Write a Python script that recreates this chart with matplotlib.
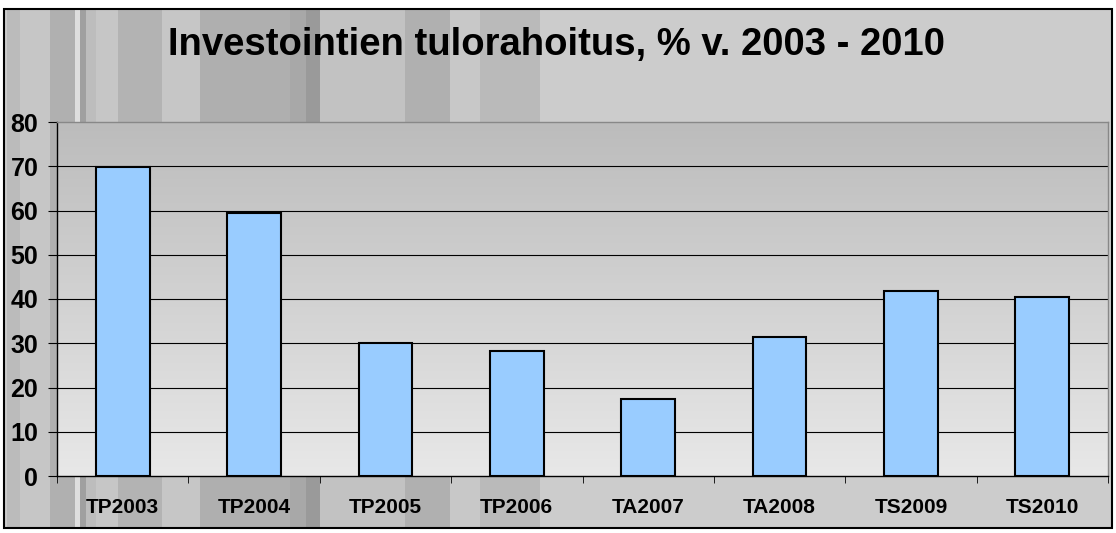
import matplotlib
matplotlib.use("Agg")
import matplotlib.pyplot as plt
import numpy as np
from matplotlib.patches import Rectangle
from matplotlib.colors import LinearSegmentedColormap

categories = ["TP2003", "TP2004", "TP2005", "TP2006", "TA2007", "TA2008", "TS2009", "TS2010"]
values = [69.8, 59.4, 30.1, 28.2, 17.4, 31.4, 41.8, 40.5]
title = "Investointien tulorahoitus, % v. 2003 - 2010"
yticks = [0, 10, 20, 30, 40, 50, 60, 70, 80]

W, H = 1116, 533
fig = plt.figure(figsize=(W / 100, H / 100), dpi=100)
fig.patch.set_facecolor("white")
plt.rcParams["font.family"] = ["Liberation Sans", "DejaVu Sans"]

# chart frame background
frame_l, frame_b, frame_r, frame_t = 4, 5, 1112, 524
fig.patches.append(Rectangle((frame_l / W, frame_b / H), (frame_r - frame_l) / W, (frame_t - frame_b) / H,
                             transform=fig.transFigure, facecolor="#cccccc", edgecolor="none", zorder=-3))
# decorative vertical stripes on the left part
stripes = [(7, 20, "#bbbbbb"), (20, 50, "#c6c6c6"), (50, 75, "#b0b0b0"), (75, 80, "#dedede"),
           (80, 86, "#a0a0a0"), (86, 96, "#bdbdbd"), (96, 118, "#c6c6c6"), (118, 162, "#b3b3b3"),
           (162, 200, "#c6c6c6"), (200, 290, "#afafaf"), (290, 306, "#a8a8a8"), (306, 320, "#9a9a9a"),
           (320, 405, "#c2c2c2"), (405, 450, "#b0b0b0"), (450, 480, "#c8c8c8"), (480, 540, "#bababa")]
for x0, x1, c in stripes:
    fig.patches.append(Rectangle((x0 / W, frame_b / H), (x1 - x0) / W, (frame_t - frame_b) / H,
                                 transform=fig.transFigure, facecolor=c, edgecolor="none", zorder=-2))
fig.patches.append(Rectangle((frame_l / W, frame_b / H), (frame_r - frame_l) / W, (frame_t - frame_b) / H,
                             transform=fig.transFigure, facecolor="none", edgecolor="black", linewidth=1.5, zorder=-1))

ax_l, ax_r, ax_t, ax_b = 57, 1108, 122, 476
ax = fig.add_axes([ax_l / W, 1 - ax_b / H, (ax_r - ax_l) / W, (ax_b - ax_t) / H])
ax.set_facecolor("none")

x = np.arange(len(categories))
ax.set_xlim(-0.5, len(categories) - 0.5)
ax.set_ylim(0, 80)

# gradient plot-area background
cmap = LinearSegmentedColormap.from_list("g", ["#e8e8e8", "#bcbcbc"])
grad = np.linspace(0, 1, 256).reshape(-1, 1)
ax.imshow(grad, cmap=cmap, aspect="auto", extent=(-0.5, len(categories) - 0.5, 0, 80),
          origin="lower", zorder=0)

ax.set_yticks(yticks)
for yv in yticks[1:-1]:
    ax.axhline(yv, color="black", linewidth=0.8, zorder=1)

ax.bar(x, values, width=0.41, color="#99ccff", edgecolor="black", linewidth=1.5, zorder=3)

ax.set_xticks(x)
ax.set_xticklabels(categories, fontsize=15, fontweight="bold")
ax.set_xticks(np.arange(len(categories) + 1) - 0.5, minor=True)
ax.tick_params(axis="x", which="major", length=0, pad=16)
ax.tick_params(axis="x", which="minor", length=5, direction="out", color="black")
ax.tick_params(axis="y", length=6.5, direction="out", labelsize=18, pad=7)
for lab in ax.get_yticklabels():
    lab.set_fontweight("bold")

ax.spines["left"].set_color("black")
ax.spines["bottom"].set_color("black")
ax.spines["top"].set_color("#888888")
ax.spines["right"].set_color("#888888")
for s in ax.spines.values():
    s.set_linewidth(1.0)
    s.set_zorder(4)

fig.text(557 / W, 1 - 45 / H, title, ha="center", va="center", fontsize=27.5, fontweight="bold")

fig.savefig("out.png", dpi=100, facecolor=fig.get_facecolor())
